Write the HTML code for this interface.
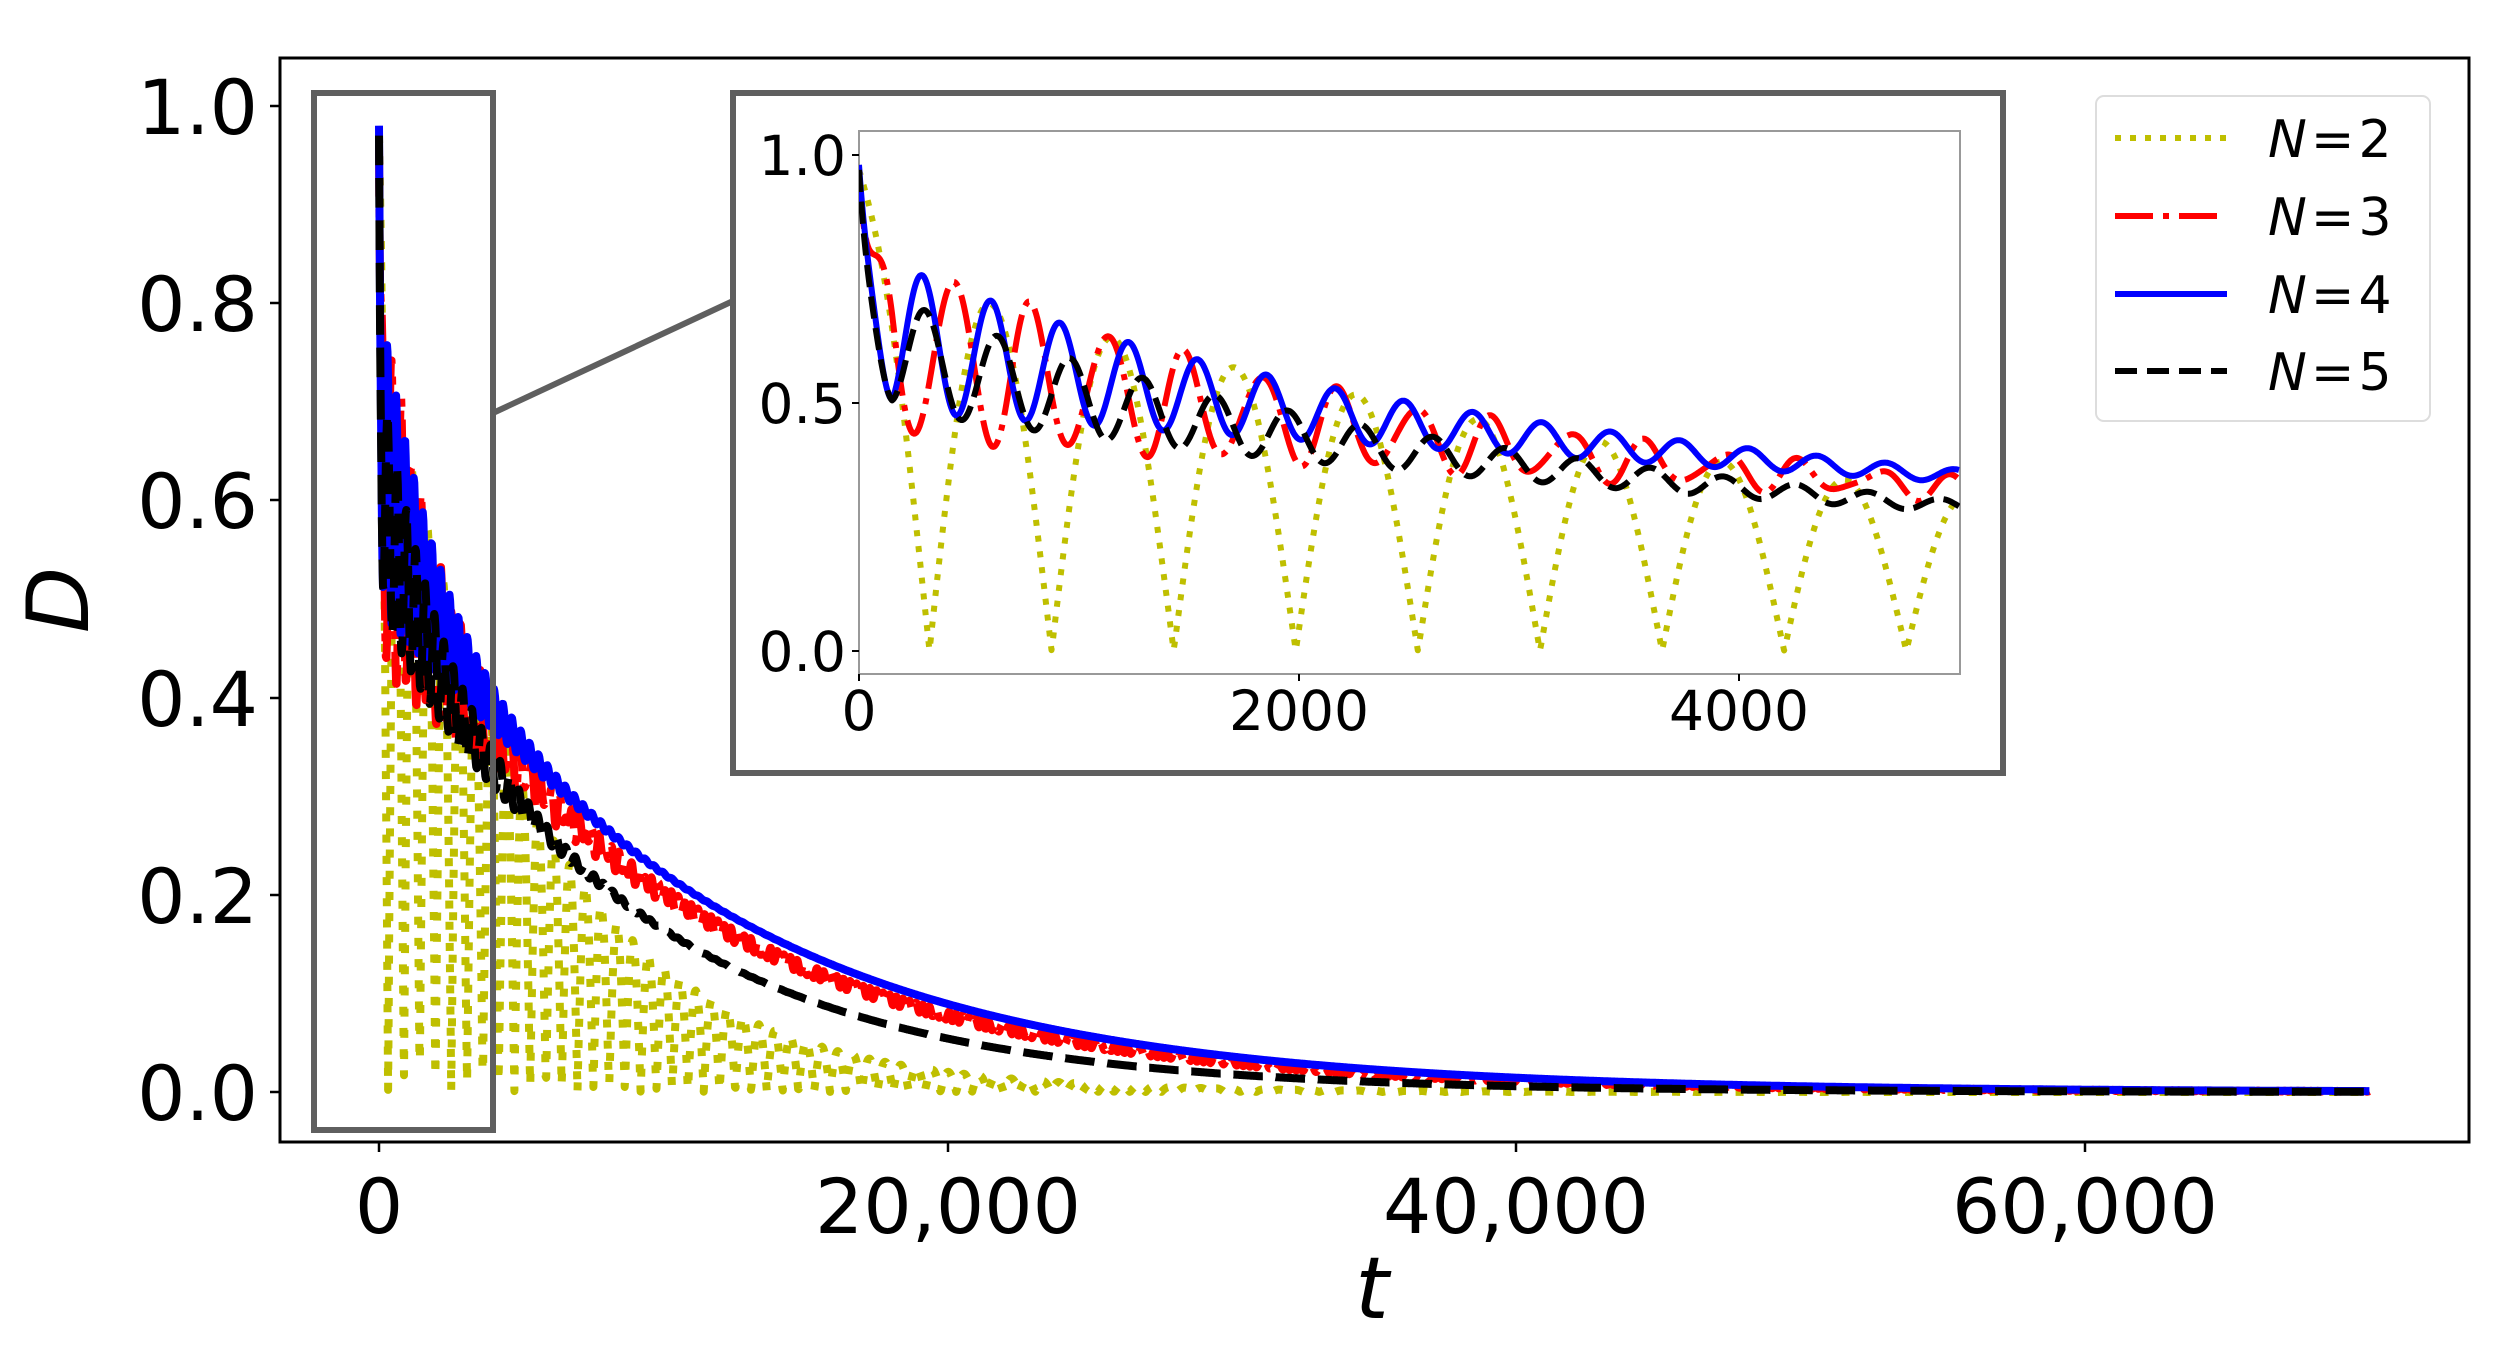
<!DOCTYPE html>
<html><head><meta charset="utf-8"><style>
html,body{margin:0;padding:0;background:#fff;width:2500px;height:1349px;overflow:hidden}
svg{display:block}
text{font-family:"DejaVu Sans","Liberation Sans",sans-serif;fill:#000}
</style></head><body>
<svg id="s" width="2500" height="1349" xmlns="http://www.w3.org/2000/svg">
<defs>
<clipPath id="cm"><rect x="280" y="58" width="2189" height="1084"/></clipPath>
<clipPath id="ci"><rect x="859" y="131" width="1101" height="543"/></clipPath>
</defs>
<rect x="280" y="58" width="2189" height="1084" fill="none" stroke="#000" stroke-width="3"/>
<g id="main" clip-path="url(#cm)"></g>
<g stroke="#000" stroke-width="2.5">
<line x1="270" y1="1092" x2="280" y2="1092"/><line x1="270" y1="895" x2="280" y2="895"/><line x1="270" y1="698" x2="280" y2="698"/><line x1="270" y1="500" x2="280" y2="500"/><line x1="270" y1="303" x2="280" y2="303"/><line x1="270" y1="106" x2="280" y2="106"/>
<line x1="379" y1="1142" x2="379" y2="1152"/><line x1="948" y1="1142" x2="948" y2="1152"/><line x1="1516" y1="1142" x2="1516" y2="1152"/><line x1="2085" y1="1142" x2="2085" y2="1152"/>
</g>
<g font-size="76" text-anchor="end">
<text x="258" y="1120">0.0</text><text x="258" y="923">0.2</text><text x="258" y="726">0.4</text><text x="258" y="528">0.6</text><text x="258" y="331">0.8</text><text x="258" y="134">1.0</text>
</g>
<g font-size="76" text-anchor="middle">
<text x="379" y="1233">0</text><text x="948" y="1233">20,000</text><text x="1516" y="1233">40,000</text><text x="2085" y="1233">60,000</text>
</g>
<text x="1372" y="1318" font-size="86" font-style="italic" text-anchor="middle">t</text>
<text transform="translate(88,600) rotate(-90)" font-size="86" font-style="italic" text-anchor="middle">D</text>
<rect x="314" y="93" width="179" height="1037" fill="none" stroke="#5f5f5f" stroke-width="6"/>
<line x1="493" y1="413" x2="733" y2="301" stroke="#5f5f5f" stroke-width="6"/>
<rect x="733" y="93" width="1270" height="680" fill="#fff" stroke="#5f5f5f" stroke-width="6"/>
<rect x="859" y="131" width="1101" height="543" fill="none" stroke="#999" stroke-width="2"/>
<g id="ins" clip-path="url(#ci)"></g>
<g stroke="#000" stroke-width="2"><line x1="852" y1="155" x2="859" y2="155"/><line x1="852" y1="403" x2="859" y2="403"/><line x1="852" y1="651" x2="859" y2="651"/>
<line x1="859" y1="674" x2="859" y2="681"/><line x1="1299" y1="674" x2="1299" y2="681"/><line x1="1739" y1="674" x2="1739" y2="681"/></g>
<g font-size="55" text-anchor="end"><text x="846" y="175">1.0</text><text x="846" y="423">0.5</text><text x="846" y="671">0.0</text></g>
<g font-size="55" text-anchor="middle"><text x="859" y="730">0</text><text x="1299" y="730">2000</text><text x="1739" y="730">4000</text></g>
<rect x="2096" y="96" width="334" height="325" rx="8" fill="#fff" stroke="#ddd" stroke-width="2"/>
<g stroke-width="6" fill="none">
<line x1="2115" y1="138" x2="2227" y2="138" stroke="#bfbf00" stroke-dasharray="6,9"/>
<line x1="2115" y1="216" x2="2227" y2="216" stroke="#f00" stroke-dasharray="38,10,6,10"/>
<line x1="2115" y1="294" x2="2227" y2="294" stroke="#00f"/>
<line x1="2115" y1="371" x2="2227" y2="371" stroke="#000" stroke-dasharray="22,10"/>
</g>
<g font-size="52"><text x="2268" y="157"><tspan font-style="italic">N</tspan><tspan dx="4">=</tspan><tspan dx="4">2</tspan></text><text x="2268" y="235"><tspan font-style="italic">N</tspan><tspan dx="4">=</tspan><tspan dx="4">3</tspan></text><text x="2268" y="313"><tspan font-style="italic">N</tspan><tspan dx="4">=</tspan><tspan dx="4">4</tspan></text><text x="2268" y="390"><tspan font-style="italic">N</tspan><tspan dx="4">=</tspan><tspan dx="4">5</tspan></text></g>
</svg>
<script>
var P=Math.PI;
function ramp(t){return t<150?t/150:1;}
function y2(t){var A=0.78*Math.exp(-t/5500)+0.22*Math.exp(-t/80);return A*Math.abs(Math.cos(P*(t-43)/555));}
function y3(t){var b=0.52*Math.exp(-t/10500);return b+0.32*Math.exp(-t/45)+0.12*Math.exp(-t/1500)+0.2*Math.exp(-t/2200)*Math.cos(2*P*(t-780)/350)*ramp(t)+0.012*Math.sin(t/37)*Math.exp(-t/20000);}
function y4(t){var b=0.55*Math.exp(-t/11000);return b+0.33*Math.exp(-t/45)+0.1*Math.exp(-t/1500)+0.16*Math.exp(-t/2000)*Math.cos(2*P*(t-600)/313)*ramp(t);}
function y5(t){var b=0.5*Math.exp(-t/9000);return b+0.35*Math.exp(-t/45)+0.12*Math.exp(-t/1500)+0.12*Math.exp(-t/2200)*Math.cos(2*P*(t-300)/330)*ramp(t);}
function path(f,t1,st,X,Y){var d="";for(var t=0;t<=t1;t+=st){d+=(t?"L":"M")+X(t).toFixed(1)+","+Y(f(t)).toFixed(1);}return d;}
var S=[[y2,"#bfbf00","1,1.65"],[y3,"#f00","6.4,1.6,1,1.6"],[y4,"#00f",""],[y5,"#000","3.7,1.6"]];
function draw(id,t1,st,X,Y,lw){var g=document.getElementById(id),h="";
S.forEach(function(s){var da=s[2]?s[2].split(",").map(function(v){return (v*lw).toFixed(1)}).join(","):"none";
h+='<path d="'+path(s[0],t1,st,X,Y)+'" fill="none" stroke="'+s[1]+'" stroke-width="'+lw+'" stroke-dasharray="'+da+'" stroke-linejoin="round"/>';});
g.innerHTML=h;}
draw("main",70000,20,function(t){return 379+t*0.028435},function(d){return 1092-d*986},8);
draw("ins",5000,5,function(t){return 859+t*0.22},function(d){return 651-d*496},6);
</script>
</body></html>
